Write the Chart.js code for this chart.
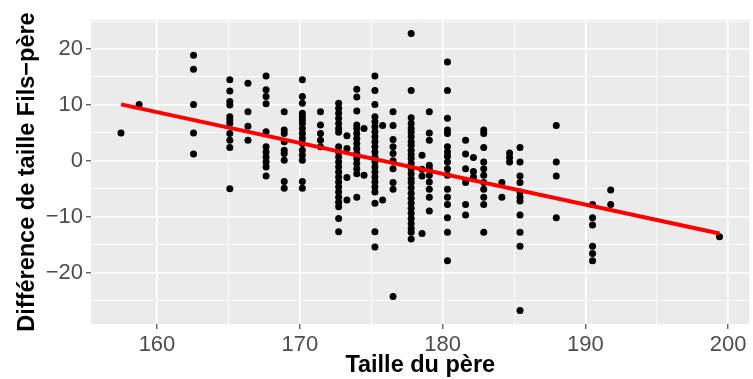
<!DOCTYPE html>
<html>
<head>
<meta charset="utf-8">
<script src="https://cdn.jsdelivr.net/npm/chart.js@4"></script>
<style>
  html, body { margin: 0; padding: 0; background: #ffffff; }
  #chart { display: block; }
</style>
</head>
<body>
<canvas id="chart" width="753" height="379"></canvas>
<script>
// Father height (cm), one entry per column of points
const fatherCm = [157.48, 158.75, 162.56, 165.10, 166.37, 167.64, 168.91, 170.18, 171.45, 172.72,
                  173.30, 173.99, 174.50, 175.26, 175.80, 176.53, 177.80, 178.56, 179.07, 180.34,
                  181.61, 182.16, 182.88, 184.15, 184.69, 185.42, 187.96, 190.50, 191.77, 199.39];

// Son - father height difference (cm) for each father height above
const diffCm = [
  [5.0],
  [10.1],
  [18.9, 16.4, 10.1, 5.0, 1.2],
  [14.5, 12.5, 10.6, 10.0, 7.9, 7.3, 6.7, 4.9, 3.7, 2.4, -5.0],
  [13.9, 8.8, 6.2, 3.7],
  [15.2, 12.7, 11.5, 10.2, 5.2, 2.5, 1.6, 0.7, -0.2, -1.1, -2.7],
  [8.8, 5.5, 4.9, 3.4, 1.9, 1.3, 0.1, -3.7, -4.9],
  [14.5, 11.5, 10.3, 8.5, 7.9, 7.3, 6.7, 5.8, 4.9, 4.0, 3.1, 1.9, 1.0, 0.1, -3.7, -4.9],
  [8.8, 6.4, 4.9, 3.7, 2.5],
  [10.3, 9.4, 8.5, 7.6, 6.7, 5.8, 5.1, 2.5, 1.6, 0.7, -0.2, -1.1, -2.0, -2.9, -3.8, -4.7, -5.6, -6.5, -7.4, -8.2, -10.3, -12.7],
  [4.5, 2.2, -3.0, -7.0],
  [12.8, 11.4, 8.9, 6.4, 5.8, 4.9, 4.0, 3.1, 2.2, 1.3, 0.4, -0.5, -1.4, -2.3, -6.5],
  [5.8, -2.6],
  [15.2, 12.6, 10.1, 7.9, 7.0, 6.1, 5.2, 4.3, 3.4, 2.5, 1.6, 0.7, -0.2, -1.1, -2.0, -2.9, -3.8, -4.7, -5.6, -7.6, -12.7, -15.4],
  [6.3, -7.0],
  [8.8, 6.3, 3.8, 2.5, 1.3, 0.0, -1.4, -3.9, -5.1, -24.3],
  [22.8, 12.6, 7.7, 6.7, 5.8, 5.1, 4.3, 3.4, 2.8, 1.9, 1.1, 0.4, -0.5, -1.4, -2.3, -3.2, -3.9, -4.8, -5.8, -6.7, -7.6, -8.5, -9.4, -10.3, -11.2, -12.1, -12.8, -14.0],
  [1.0, -1.5, -2.7, -13.0],
  [8.8, 5.0, 3.7, -0.8, -1.4, -2.6, -3.8, -5.1, -6.5, -9.0],
  [17.7, 12.6, 7.6, 5.5, 4.9, 2.5, 1.6, 0.8, -0.2, -1.4, -2.6, -5.1, -6.5, -7.8, -10.2, -12.8, -17.9],
  [3.7, 1.2, -1.4, -3.9, -7.8, -9.7],
  [0.6, -1.9, -2.9],
  [5.5, 4.9, 2.4, -0.2, -1.4, -2.6, -3.9, -5.1, -6.5, -7.8, -12.8],
  [-3.9, -6.5],
  [1.4, 0.6, -0.2],
  [2.4, -0.2, -2.7, -3.9, -5.6, -6.5, -7.2, -9.7, -12.8, -15.3, -26.8],
  [6.3, -0.2, -2.7, -10.2],
  [-7.8, -10.2, -11.5, -15.3, -16.6, -17.9],
  [-5.2, -7.8],
  [-13.6]
];

// Fitted regression line, end points
const fitX = [157.48, 199.39];
const fitY = [10.1, -13.0];

// Axis breaks
const xMajor = [160, 170, 180, 190, 200];
const xMinor = [165, 175, 185, 195];
const yMajor = [-20, -10, 0, 10, 20];
const yMinor = [-25, -15, -5, 5, 15, 25];

const points = [];
fatherCm.forEach((x, i) => diffCm[i].forEach(y => points.push({ x: x, y: y })));
const fitLine = fitX.map((x, i) => ({ x: x, y: fitY[i] }));

const fmt = v => (v < 0 ? '\u2212' + Math.abs(v) : String(v));
const isMajor = (list, v) => list.indexOf(v) !== -1;

// grey panel behind the plot
const panelBg = {
  id: 'panelBg',
  beforeDraw(chart) {
    const a = chart.chartArea;
    const ctx = chart.ctx;
    ctx.save();
    ctx.fillStyle = '#EBEBEB';
    ctx.fillRect(a.left, a.top, a.right - a.left, a.bottom - a.top);
    ctx.restore();
  }
};

function axis(major, minor, min, max, title, titlePad) {
  return {
    type: 'linear',
    min: min,
    max: max,
    afterBuildTicks: s => {
      s.ticks = major.concat(minor).sort((a, b) => a - b).map(v => ({ value: v }));
    },
    border: { display: false },
    grid: {
      color: '#FFFFFF',
      lineWidth: c => (isMajor(major, c.tick.value) ? 1.6 : 0.8),
      tickColor: c => (isMajor(major, c.tick.value) ? '#333333' : 'rgba(0,0,0,0)'),
      tickWidth: 1.1,
      tickLength: 5
    },
    ticks: {
      autoSkip: false,
      maxRotation: 0,
      padding: 3,
      color: '#4D4D4D',
      font: { family: 'Liberation Sans, Arial, sans-serif', size: 22 },
      callback: v => (isMajor(major, v) ? fmt(v) : '')
    },
    title: {
      display: true,
      text: title,
      color: '#000000',
      padding: titlePad,
      font: { family: 'Liberation Sans, Arial, sans-serif', size: 23.5, weight: 'bold' }
    }
  };
}

const xScale = axis(xMajor, xMinor, 155.38, 201.49, 'Taille du p\u00e8re', { top: 0, bottom: -1 });
xScale.afterFit = s => { s.height = 55; };
const yScale = axis(yMajor, yMinor, -29.2, 25.2, 'Diff\u00e9rence de taille Fils\u2212p\u00e8re', { top: 13, bottom: 0 });
yScale.afterFit = s => { s.width = 91; };

new Chart(document.getElementById('chart').getContext('2d'), {
  type: 'scatter',
  data: {
    datasets: [
      {
        label: 'fit',
        type: 'line',
        data: fitLine,
        order: 0,
        borderColor: '#FF0000',
        borderWidth: 4,
        borderCapStyle: 'butt',
        pointRadius: 0,
        fill: false
      },
      {
        label: 'points',
        data: points,
        order: 1,
        backgroundColor: '#000000',
        borderWidth: 0,
        pointRadius: 3.5,
        pointHoverRadius: 3.5
      }
    ]
  },
  options: {
    responsive: false,
    animation: false,
    layout: { padding: { top: 20, right: 3, left: 0, bottom: 0 } },
    plugins: { legend: { display: false }, tooltip: { enabled: false } },
    scales: { x: xScale, y: yScale }
  },
  plugins: [panelBg]
});
</script>
</body>
</html>
